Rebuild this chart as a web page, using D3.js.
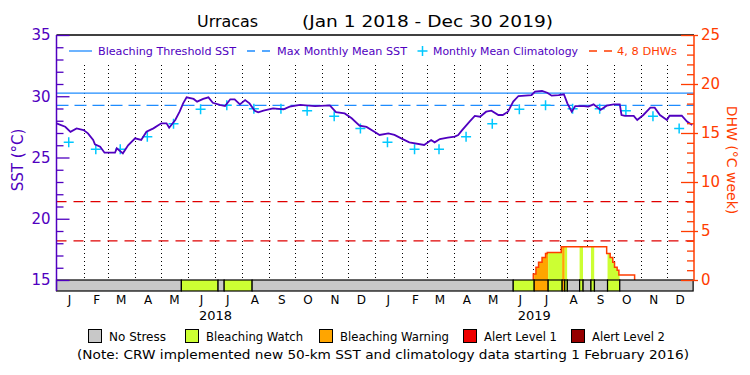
<!DOCTYPE html>
<html>
<head>
<meta charset="utf-8">
<script src="https://cdn.jsdelivr.net/npm/d3@7"></script>
<style>
  body { margin: 0; background: #fff; }
  svg { display: block; }
  text { font-family: 'DejaVu Sans', sans-serif; }
</style>
</head>
<body>
<svg id="chart" width="750" height="375"></svg>
<script>
// values
var sstDates = [
  '2018-01-01','2018-01-11','2018-01-17','2018-01-24','2018-02-01','2018-02-06','2018-02-12','2018-02-14',
  '2018-02-20','2018-02-25','2018-03-09','2018-03-11','2018-03-18','2018-03-24','2018-04-01','2018-04-08',
  '2018-04-14','2018-04-22','2018-05-01','2018-05-07','2018-05-10','2018-05-17','2018-05-22','2018-05-26',
  '2018-05-30','2018-06-07','2018-06-11','2018-06-18','2018-06-24','2018-06-29','2018-07-07','2018-07-13',
  '2018-07-19','2018-07-24','2018-07-30','2018-08-05','2018-08-10','2018-08-16','2018-08-20','2018-08-26',
  '2018-09-06','2018-09-18','2018-09-25','2018-10-07','2018-10-24','2018-11-10','2018-11-17','2018-11-27',
  '2018-12-05','2018-12-14','2018-12-22','2018-12-31',
  '2019-01-06','2019-01-16','2019-01-23','2019-02-02','2019-02-09','2019-02-26','2019-03-06','2019-03-10',
  '2019-03-16','2019-03-25','2019-04-02','2019-04-06','2019-04-10','2019-04-19','2019-04-25','2019-05-01',
  '2019-05-08','2019-05-14','2019-05-22','2019-05-27','2019-06-02','2019-06-08','2019-06-14','2019-06-29',
  '2019-07-03','2019-07-11','2019-07-17','2019-07-22','2019-07-30','2019-08-05','2019-08-09','2019-08-14',
  '2019-08-18','2019-08-28','2019-09-02','2019-09-08','2019-09-16','2019-09-23','2019-10-01','2019-10-08',
  '2019-10-10','2019-10-14','2019-10-24','2019-10-28','2019-11-04','2019-11-12','2019-11-17','2019-11-23',
  '2019-12-01','2019-12-04','2019-12-18','2019-12-24','2019-12-30'
];
var sstValues = [
  27.79, 27.51, 27.10, 27.38, 27.24, 26.97, 26.43, 26.07,
  25.88, 25.39, 25.39, 25.75, 25.34, 26.00, 26.57, 26.43,
  27.10, 27.38, 27.79, 27.79, 27.43, 28.06, 28.74, 29.42,
  29.91, 29.78, 29.56, 29.78, 29.91, 29.47, 29.29, 29.20,
  29.75, 29.75, 29.34, 29.69, 29.42, 28.82, 28.69, 28.82,
  29.01, 28.93, 29.15, 29.29, 29.20, 29.25, 28.70, 28.60,
  28.20, 27.60, 27.50, 27.10,
  26.84, 26.97, 26.84, 26.48, 26.24, 26.02, 26.43, 26.24,
  26.51, 26.62, 26.70, 26.84, 27.19, 27.93, 28.39, 28.33,
  28.74, 28.82, 28.47, 28.47, 28.74, 29.56, 30.02, 30.10,
  30.37, 30.43, 30.29, 30.05, 30.10, 30.16, 29.42, 28.74,
  29.20, 29.20, 29.15, 29.34, 28.88, 29.23, 29.34, 29.34,
  28.47, 28.39, 28.39, 28.06, 28.47, 29.07, 29.07, 28.47,
  28.06, 28.41, 28.41, 27.93, 27.65
];

// monthly mean climatology, Jan..Dec (same every year)
var climValues = [26.24, 25.67, 25.68, 26.70, 27.76, 28.93, 29.26, 28.97, 28.97, 28.81, 28.36, 27.37];
var climYears = [2018, 2019];

// degree heating weeks
var dhwDates = ['2019-07-01','2019-07-01','2019-07-04','2019-07-07','2019-07-11','2019-07-15','2019-07-17',
  '2019-08-02','2019-09-23','2019-09-27','2019-09-30','2019-10-02','2019-10-05','2019-10-07','2019-10-25'];
var dhwValues = [0, 0.6, 1.3, 1.8, 2.3, 2.7, 2.8, 3.4, 2.7, 2.3, 1.8, 1.3, 1.0, 0.5, 0];
var dhwRefLines = [4, 8];

// stress level periods: 0 none, 1 watch, 2 warning, 3 alert 1, 4 alert 2
var stressStarts = ['2018-01-01','2018-05-24','2018-07-05','2018-07-12','2018-08-13','2019-06-08','2019-07-02',
  '2019-07-18','2019-08-03','2019-08-06','2019-08-09','2019-08-23','2019-08-27','2019-09-05','2019-09-09',
  '2019-09-24','2019-10-08'];
var stressLevels = [0, 1, 0, 1, 0, 1, 2, 1, 2, 1, 0, 1, 0, 1, 0, 1, 0];
var stressEnd = '2019-12-31';
var stressNames = ['No Stress', 'Bleaching Watch', 'Bleaching Warning', 'Alert Level 1', 'Alert Level 2'];

var monthLabels = ['J','F','M','A','M','J','J','A','S','O','N','D'];
var yearLabels = ['2018', '2019'];
var sstTicks = [15, 20, 25, 30, 35];
var dhwTicks = [0, 5, 10, 15, 20, 25];

var purple = '#5000c0',
  blue = '#1e8cff',
  cyan = '#00c8ff',
  red = '#e00000',
  orangeRed = '#ff3c00',
  stressColors = ['#c8c8c8', '#ccff33', '#ffa500', '#ee0000', '#960000'];

var parse = d3.timeParse('%Y-%m-%d');
var svg = d3.select('#chart');

var plotLeft = 56.5, plotRight = 694, plotTop = 35, plotBottom = 280, barBottom = 291;

var x = d3.scaleTime().domain([parse('2018-01-01'), parse('2020-01-01')]).range([plotLeft, plotRight]);
var ySst = d3.scaleLinear().domain([15, 35]).range([plotBottom, plotTop]);
var yDhw = d3.scaleLinear().domain([0, 25]).range([plotBottom, plotTop]);

var sst = sstDates.map((d, i) => ({ date: parse(d), v: sstValues[i] }));
var dhw = dhwDates.map((d, i) => ({ date: parse(d), v: dhwValues[i] }));
var mmm = d3.max(climValues);
var threshold = mmm + 1;

var clim = [];
climYears.forEach(yr => climValues.forEach((v, m) => clim.push({ date: new Date(yr, m, 15), v: v })));

var segments = stressStarts.map((d, i) => ({
  start: parse(d),
  end: parse(i < stressStarts.length - 1 ? stressStarts[i + 1] : stressEnd),
  level: stressLevels[i]
}));

// title
svg.append('text').attr('x', 197).attr('y', 27).attr('font-size', 16)
  .attr('textLength', 61).attr('lengthAdjust', 'spacingAndGlyphs').text('Urracas');
svg.append('text').attr('x', 302).attr('y', 27).attr('font-size', 16)
  .attr('textLength', 251).attr('lengthAdjust', 'spacingAndGlyphs').text('(Jan 1 2018 - Dec 30 2019)');

// month boundaries
var monthStarts = d3.timeMonth.range(parse('2018-02-01'), parse('2020-01-01'));
svg.append('g').selectAll('line').data(monthStarts).enter().append('line')
  .attr('x1', d => Math.round(x(d)) + 0.5).attr('x2', d => Math.round(x(d)) + 0.5)
  .attr('y1', 65).attr('y2', plotBottom)
  .attr('stroke', '#000').attr('stroke-dasharray', '1,3');

// DHW area, filled by stress level
svg.append('clipPath').attr('id', 'dhw-clip').append('path')
  .attr('d', d3.area().x(d => x(d.date)).y0(yDhw(0)).y1(d => yDhw(d.v)).curve(d3.curveStepAfter)(dhw));

svg.append('g').attr('clip-path', 'url(#dhw-clip)')
  .selectAll('rect').data(segments).enter().append('rect')
  .attr('x', d => x(d.start)).attr('width', d => x(d.end) - x(d.start))
  .attr('y', plotTop).attr('height', plotBottom - plotTop)
  .attr('fill', d => d.level === 0 ? '#fff' : stressColors[d.level]);

svg.append('path').datum(dhw)
  .attr('d', d3.line().x(d => x(d.date)).y(d => yDhw(d.v)).curve(d3.curveStepAfter))
  .attr('fill', 'none').attr('stroke', orangeRed).attr('stroke-width', 1.5);

// DHW reference lines
svg.append('g').selectAll('line').data(dhwRefLines).enter().append('line')
  .attr('x1', plotLeft).attr('x2', plotRight)
  .attr('y1', d => yDhw(d)).attr('y2', d => yDhw(d))
  .attr('stroke', red).attr('stroke-width', 1.3).attr('stroke-dasharray', '10,7');

// threshold and MMM
svg.append('line').attr('x1', plotLeft).attr('x2', plotRight)
  .attr('y1', ySst(threshold)).attr('y2', ySst(threshold))
  .attr('stroke', blue).attr('stroke-width', 1.3);
svg.append('line').attr('x1', plotLeft).attr('x2', plotRight)
  .attr('y1', ySst(mmm)).attr('y2', ySst(mmm))
  .attr('stroke', blue).attr('stroke-width', 1.3).attr('stroke-dasharray', '12,6');

// climatology crosses
svg.append('g').selectAll('path').data(clim).enter().append('path')
  .attr('transform', d => `translate(${x(d.date)},${ySst(d.v)})`)
  .attr('d', 'M-5,0H5M0,-5V5')
  .attr('stroke', cyan).attr('stroke-width', 1.5);

// SST line
svg.append('path').datum(sst)
  .attr('d', d3.line().x(d => x(d.date)).y(d => ySst(d.v)))
  .attr('fill', 'none').attr('stroke', purple).attr('stroke-width', 1.8);

// stress bar
svg.append('g').selectAll('rect').data(segments).enter().append('rect')
  .attr('x', d => x(d.start)).attr('width', d => x(d.end) - x(d.start))
  .attr('y', plotBottom).attr('height', barBottom - plotBottom)
  .attr('fill', d => stressColors[d.level])
  .attr('stroke', '#000').attr('stroke-width', 1.2);

// frame top
svg.append('line').attr('x1', plotLeft).attr('x2', plotRight).attr('y1', plotTop).attr('y2', plotTop)
  .attr('stroke', '#000').attr('stroke-width', 1.3);

// left axis
var yAxisGroup = svg.append('g').attr('transform', `translate(${plotLeft},0)`)
  .call(d3.axisLeft(ySst).tickValues(d3.range(15, 36)).tickSize(-6).tickSizeOuter(0).tickPadding(6)
    .tickFormat(d => sstTicks.indexOf(d) >= 0 ? d : ''));
yAxisGroup.select('.domain').remove();
yAxisGroup.selectAll('line').attr('stroke', purple).attr('stroke-width', 1.3)
  .attr('x2', d => sstTicks.indexOf(d) >= 0 ? 13 : 7);
yAxisGroup.selectAll('text').attr('fill', purple).attr('font-size', 15)
  .attr('font-family', 'DejaVu Sans, sans-serif');
svg.append('line').attr('x1', plotLeft).attr('x2', plotLeft).attr('y1', plotTop).attr('y2', barBottom)
  .attr('stroke', purple).attr('stroke-width', 1.5);
svg.append('text').attr('transform', 'translate(23,160) rotate(-90)')
  .attr('text-anchor', 'middle').attr('fill', purple).attr('font-size', 15).text('SST (°C)');

// right axis
var dhwAxisGroup = svg.append('g').attr('transform', `translate(${plotRight},0)`)
  .call(d3.axisRight(yDhw).tickValues(d3.range(0, 26)).tickSize(-7).tickSizeOuter(0).tickPadding(7)
    .tickFormat(d => dhwTicks.indexOf(d) >= 0 ? d : ''));
dhwAxisGroup.select('.domain').remove();
dhwAxisGroup.selectAll('line').attr('stroke', orangeRed).attr('stroke-width', 1.3)
  .attr('x1', d => dhwTicks.indexOf(d) >= 0 ? 4 : 0)
  .attr('x2', d => dhwTicks.indexOf(d) >= 0 ? -13 : -7);
dhwAxisGroup.selectAll('text').attr('fill', orangeRed).attr('font-size', 15)
  .attr('font-family', 'DejaVu Sans, sans-serif');
svg.append('line').attr('x1', plotRight).attr('x2', plotRight).attr('y1', plotTop).attr('y2', plotBottom)
  .attr('stroke', orangeRed).attr('stroke-width', 1.5);
svg.append('text').attr('transform', 'translate(727,160) rotate(90)')
  .attr('text-anchor', 'middle').attr('fill', orangeRed).attr('font-size', 14).text('DHW (°C week)');

// month and year labels
var monthMids = d3.timeMonth.range(parse('2018-01-01'), parse('2020-01-01'))
  .map(d => new Date(d.getFullYear(), d.getMonth(), 16));
svg.append('g').selectAll('text').data(monthMids).enter().append('text')
  .attr('x', d => x(d)).attr('y', 304).attr('text-anchor', 'middle').attr('font-size', 12)
  .text(d => monthLabels[d.getMonth()]);
svg.append('g').selectAll('text').data(yearLabels).enter().append('text')
  .attr('x', d => x(new Date(+d, 6, 2))).attr('y', 320).attr('text-anchor', 'middle').attr('font-size', 13)
  .text(d => d);

// top legend
var lg = svg.append('g').attr('font-size', 11);
lg.append('line').attr('x1', 69).attr('x2', 92).attr('y1', 51).attr('y2', 51).attr('stroke', blue).attr('stroke-width', 1.3);
lg.append('text').attr('x', 98).attr('y', 55).attr('fill', purple)
  .attr('textLength', 138).attr('lengthAdjust', 'spacingAndGlyphs').text('Bleaching Threshold SST');
lg.append('line').attr('x1', 247).attr('x2', 270).attr('y1', 51).attr('y2', 51).attr('stroke', blue)
  .attr('stroke-width', 1.3).attr('stroke-dasharray', '8,7');
lg.append('text').attr('x', 277).attr('y', 55).attr('fill', purple)
  .attr('textLength', 130).attr('lengthAdjust', 'spacingAndGlyphs').text('Max Monthly Mean SST');
lg.append('path').attr('d', 'M417.5,51H427.5M422.5,46V56').attr('stroke', cyan).attr('stroke-width', 1.5);
lg.append('text').attr('x', 433).attr('y', 55).attr('fill', purple)
  .attr('textLength', 145).attr('lengthAdjust', 'spacingAndGlyphs').text('Monthly Mean Climatology');
lg.append('line').attr('x1', 589).attr('x2', 612).attr('y1', 51).attr('y2', 51).attr('stroke', orangeRed)
  .attr('stroke-width', 1.3).attr('stroke-dasharray', '8,7');
lg.append('text').attr('x', 617).attr('y', 55).attr('fill', orangeRed)
  .attr('textLength', 60).attr('lengthAdjust', 'spacingAndGlyphs').text('4, 8 DHWs');

// bottom legend
var legendBoxX = [88, 185, 319, 463, 571];
var legendTextW = [57, 97, 109, 73, 73];
var bl = svg.append('g').selectAll('g').data(stressNames).enter().append('g')
  .attr('transform', (d, i) => `translate(${legendBoxX[i]},0)`);
bl.append('rect').attr('x', 0.5).attr('y', 329.5).attr('width', 13).attr('height', 13)
  .attr('fill', (d, i) => stressColors[i]).attr('stroke', '#000');
bl.append('text').attr('x', 21).attr('y', 341).attr('font-size', 12)
  .attr('textLength', (d, i) => legendTextW[i]).attr('lengthAdjust', 'spacingAndGlyphs').text(d => d);

svg.append('text').attr('x', 77).attr('y', 359).attr('font-size', 12.5)
  .attr('textLength', 612).attr('lengthAdjust', 'spacingAndGlyphs')
  .text('(Note: CRW implemented new 50-km SST and climatology data starting 1 February 2016)');
</script>
</body>
</html>
